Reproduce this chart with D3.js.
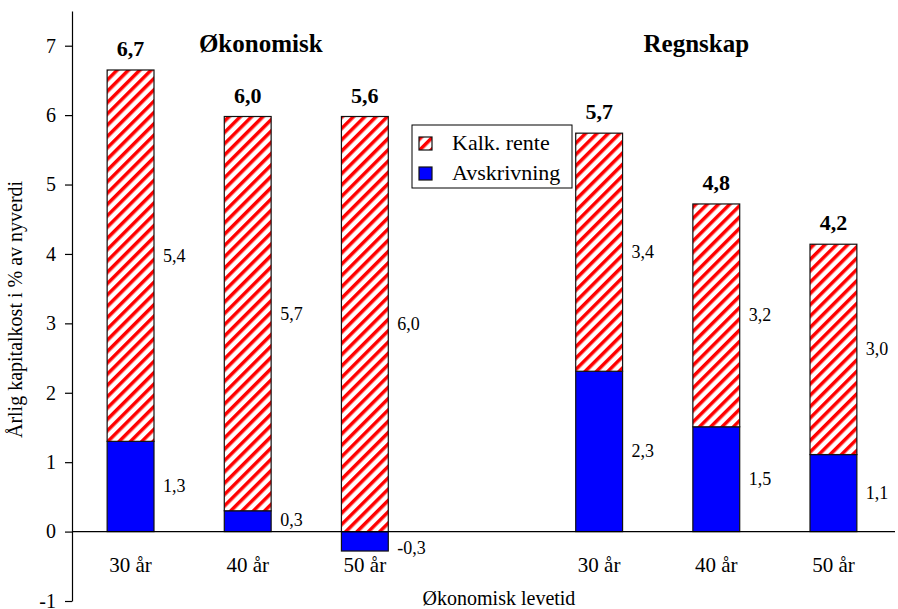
<!DOCTYPE html>
<html>
<head>
<meta charset="utf-8">
<script src="https://cdn.jsdelivr.net/npm/d3@7"></script>
</head>
<body style="margin:0">
<svg id="chart" width="898" height="609" font-family="'Liberation Serif'"></svg>
<script>
// data
var groups = ["Økonomisk", "Regnskap"];
var lifetimes = ["30 år", "40 år", "50 år"];
var avskrivning = [1.3, 0.3, -0.28, 2.31, 1.51, 1.11];
var kalkRente = [5.35, 5.68, 5.98, 3.43, 3.21, 3.03];
var avskrLabels = ["1,3", "0,3", "-0,3", "2,3", "1,5", "1,1"];
var renteLabels = ["5,4", "5,7", "6,0", "3,4", "3,2", "3,0"];
var totalLabels = ["6,7", "6,0", "5,6", "5,7", "4,8", "4,2"];
var yTicks = [-1, 0, 1, 2, 3, 4, 5, 6, 7];
var legendItems = ["Kalk. rente", "Avskrivning"];

var svg = d3.select("#chart"),
    margin = {top: 11, right: 3, bottom: 8, left: 72},
    width = +svg.attr("width") - margin.left - margin.right,
    height = +svg.attr("height") - margin.top - margin.bottom;

// hatch for kalk. rente
var defs = svg.append("defs");
var pat = defs.append("pattern")
    .attr("id", "hatch")
    .attr("patternUnits", "userSpaceOnUse")
    .attr("width", 8)
    .attr("height", 8)
    .attr("patternTransform", "rotate(45)");
pat.append("rect").attr("width", 8).attr("height", 8).attr("fill", "#fff");
pat.append("rect").attr("width", 3.5).attr("height", 8).attr("fill", "#ff0000");

// 7 slots: 3 bars, one empty gap, 3 bars
var data = [];
groups.forEach(function (g, gi) {
    lifetimes.forEach(function (l, li) {
        var i = gi * 3 + li;
        data.push({
            slot: gi * 4 + li,
            group: g,
            lifetime: l,
            avskr: avskrivning[i],
            rente: kalkRente[i],
            avskrLabel: avskrLabels[i],
            renteLabel: renteLabels[i],
            totalLabel: totalLabels[i]
        });
    });
});

var x = d3.scaleBand()
    .domain(d3.range(7))
    .range([0, width - 3])
    .paddingInner(0.6)
    .paddingOuter(0.3);

var y = d3.scaleLinear()
    .domain([-1, 7.5])
    .range([height, 0]);

var g = svg.append("g")
    .attr("transform", "translate(" + margin.left + "," + margin.top + ")");

// y axis
var yAxis = d3.axisLeft(y)
    .tickValues(yTicks)
    .tickSize(7)
    .tickSizeOuter(0)
    .tickPadding(9)
    .tickFormat(function (d) { return String(d); });

var ya = g.append("g")
    .attr("class", "y axis")
    .call(yAxis)
    .attr("font-size", 20);
ya.select(".domain").attr("stroke", "#000").attr("stroke-width", 1.2);
ya.selectAll(".tick line").attr("stroke", "#000").attr("stroke-width", 1.2);
ya.selectAll(".tick text").attr("fill", "#000");

// bars - avskrivning
g.selectAll(".avskr")
    .data(data)
    .enter().append("rect")
    .attr("class", "avskr")
    .attr("x", function (d) { return x(d.slot); })
    .attr("y", function (d) { return y(Math.max(0, d.avskr)); })
    .attr("width", x.bandwidth())
    .attr("height", function (d) { return Math.abs(y(d.avskr) - y(0)); })
    .attr("fill", "#0000ff")
    .attr("stroke", "#111")
    .attr("stroke-width", 1.2);

// bars - kalk. rente, stacked on positive avskrivning
g.selectAll(".rente")
    .data(data)
    .enter().append("rect")
    .attr("class", "rente")
    .attr("x", function (d) { return x(d.slot); })
    .attr("y", function (d) { return y(Math.max(0, d.avskr) + d.rente); })
    .attr("width", x.bandwidth())
    .attr("height", function (d) { return y(Math.max(0, d.avskr)) - y(Math.max(0, d.avskr) + d.rente); })
    .attr("fill", "url(#hatch)")
    .attr("stroke", "#111")
    .attr("stroke-width", 1.2);

// zero line
g.append("line")
    .attr("x1", 0)
    .attr("x2", width)
    .attr("y1", y(0))
    .attr("y2", y(0))
    .attr("stroke", "#000")
    .attr("stroke-width", 1.2);

// segment labels
g.selectAll(".avskrLabel")
    .data(data)
    .enter().append("text")
    .attr("class", "avskrLabel")
    .attr("x", function (d) { return x(d.slot) + x.bandwidth() + 9; })
    .attr("y", function (d) {
        var mid = (y(d.avskr) + y(0)) / 2;
        if (d.avskr >= 0) return Math.min(mid, y(0) - 12) + 6;
        return Math.max(mid, y(0) + 16) + 6;
    })
    .attr("font-size", 18)
    .text(function (d) { return d.avskrLabel; });

g.selectAll(".renteLabel")
    .data(data)
    .enter().append("text")
    .attr("class", "renteLabel")
    .attr("x", function (d) { return x(d.slot) + x.bandwidth() + 9; })
    .attr("y", function (d) {
        var b = Math.max(0, d.avskr);
        return (y(b) + y(b + d.rente)) / 2 + 6;
    })
    .attr("font-size", 18)
    .text(function (d) { return d.renteLabel; });

// totals
g.selectAll(".totalLabel")
    .data(data)
    .enter().append("text")
    .attr("class", "totalLabel")
    .attr("x", function (d) { return x(d.slot) + x.bandwidth() / 2; })
    .attr("y", function (d) { return y(Math.max(0, d.avskr) + d.rente) - 14; })
    .attr("text-anchor", "middle")
    .attr("font-size", 22)
    .attr("font-weight", "bold")
    .text(function (d) { return d.totalLabel; });

// category labels
g.selectAll(".catLabel")
    .data(data)
    .enter().append("text")
    .attr("class", "catLabel")
    .attr("x", function (d) { return x(d.slot) + x.bandwidth() / 2; })
    .attr("y", y(0) + 40)
    .attr("text-anchor", "middle")
    .attr("font-size", 21)
    .text(function (d) { return d.lifetime; });

// group headers
var headerOffset = [13, -20];
g.selectAll(".groupHead")
    .data(groups)
    .enter().append("text")
    .attr("class", "groupHead")
    .attr("x", function (d, i) { return x(i * 4 + 1) + x.bandwidth() / 2 + headerOffset[i]; })
    .attr("y", 41)
    .attr("text-anchor", "middle")
    .attr("font-size", 25)
    .attr("font-weight", "bold")
    .text(function (d) { return d; });

// axis titles
g.append("text")
    .attr("text-anchor", "middle")
    .attr("transform", "translate(" + (-50) + "," + (y(3.2)) + ")rotate(-90)")
    .attr("font-size", 20)
    .text("Årlig kapitalkost i % av nyverdi");

g.append("text")
    .attr("text-anchor", "middle")
    .attr("x", x(3) + x.bandwidth() / 2 + 17)
    .attr("y", height + 4)
    .attr("font-size", 20)
    .text("Økonomisk levetid");

// legend
var legend = svg.append("g")
    .attr("transform", "translate(412,125)");
legend.append("rect")
    .attr("width", 160)
    .attr("height", 63)
    .attr("fill", "#fff")
    .attr("stroke", "#000")
    .attr("stroke-width", 1);
var li = legend.selectAll(".item")
    .data(legendItems)
    .enter().append("g")
    .attr("class", "item")
    .attr("transform", function (d, i) { return "translate(7," + (12 + i * 30) + ")"; });
li.append("rect")
    .attr("width", 13)
    .attr("height", 13)
    .attr("fill", function (d, i) { return i === 0 ? "url(#hatch)" : "#0000ff"; })
    .attr("stroke", "#111")
    .attr("stroke-width", 1.2);
li.append("text")
    .attr("x", 33)
    .attr("y", 13)
    .attr("font-size", 22)
    .text(function (d) { return d; });

// same serif face on every text
svg.selectAll("text").attr("font-family", "'Liberation Serif'").attr("fill", "#000");
</script>
</body>
</html>
